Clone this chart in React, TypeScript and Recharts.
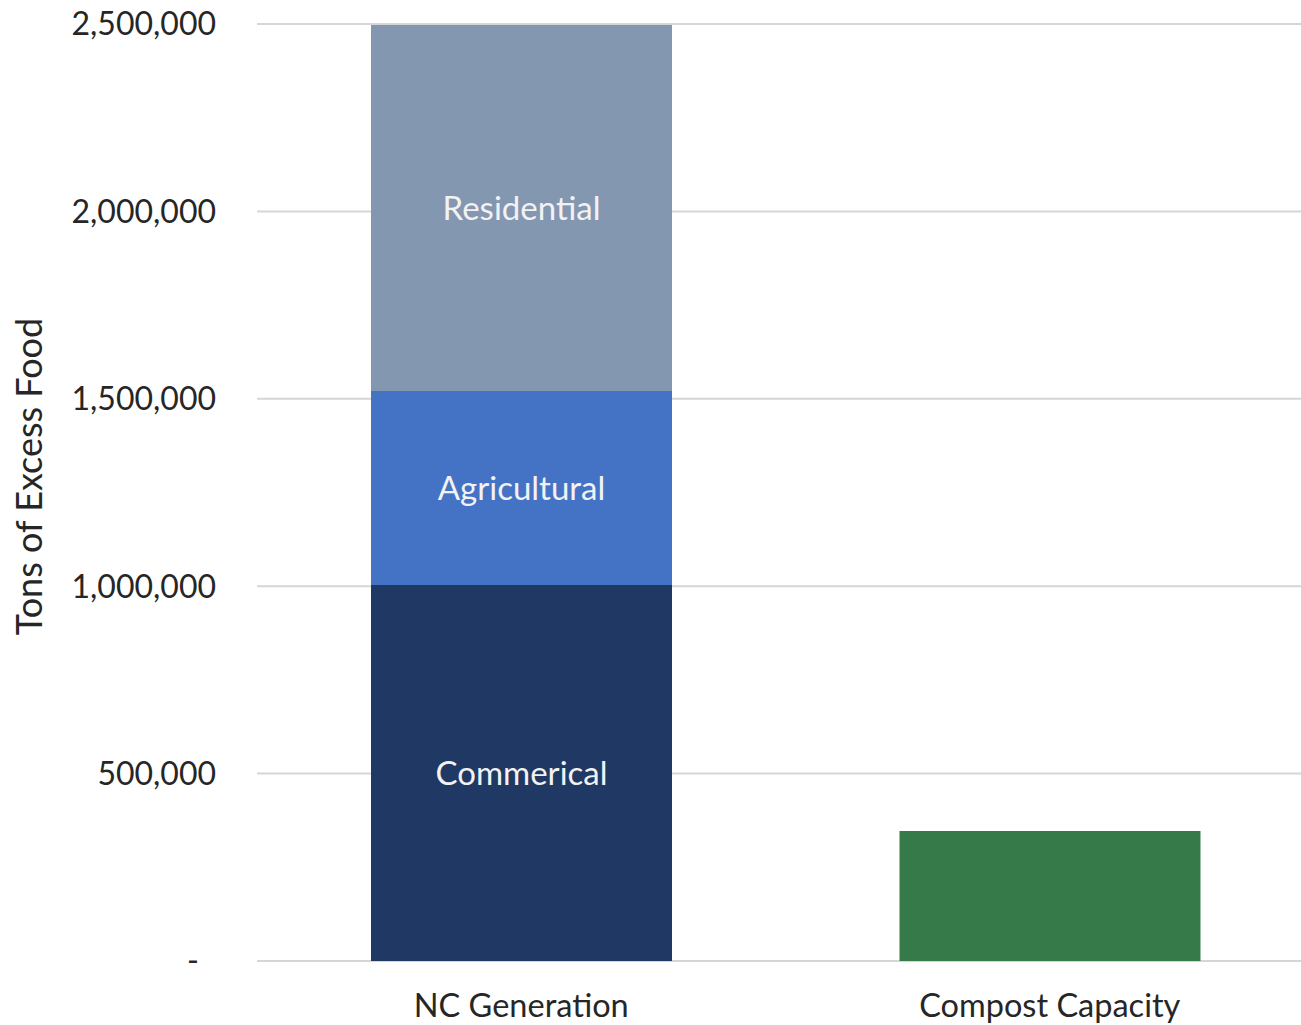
import { BarChart, Bar, XAxis, YAxis, CartesianGrid, LabelList } from "recharts"

const categories = ["NC Generation", "Compost Capacity"]
const commercial = [1003000, null]
const agricultural = [518000, null]
const residential = [976000, null]
const compost = [null, 347000]
const yTicks = [0, 500000, 1000000, 1500000, 2000000, 2500000]

const data = categories.map((name, i) => ({
  name,
  commercial: commercial[i],
  agricultural: agricultural[i],
  residential: residential[i],
  compost: compost[i],
}))

const FONT = "Lato, 'Open Sans', sans-serif"
const TEXT = "#262626"

function YTick(props: any) {
  const { x, y, payload } = props
  const v = payload.value
  if (v === 0) {
    return <text x={x - 17} y={y} dy="0.355em" textAnchor="end" fontSize={32} fill={TEXT} fontFamily={FONT}>-</text>
  }
  return (
    <text x={x} y={y} dy="0.355em" textAnchor="end" fontSize={32} fill={TEXT} fontFamily={FONT}>
      {v.toLocaleString("en-US")}
    </text>
  )
}

function segLabel(text: string) {
  return (props: any) => {
    const { x, y, width, height, value } = props
    if (value == null) return null
    return (
      <text x={x + width / 2} y={y + height / 2} dy="0.355em" textAnchor="middle" fontSize={33} fill="#f2f2f2" fontFamily={FONT}>
        {text}
      </text>
    )
  }
}

export default function App() {
  return (
    <div style={{ position: "absolute", left: 0, top: 0, width: 1301, height: 1025, overflow: "hidden", background: "#fff" }}>
      <BarChart width={1301} height={1025} data={data} margin={{ top: 24, right: -13, bottom: 0, left: 0 }} barSize={301}>
        <CartesianGrid vertical={false} stroke="#d6d6d6" strokeWidth={2} />
        <XAxis
          dataKey="name"
          height={64}
          axisLine={false}
          tickLine={false}
          tickSize={0}
          tickMargin={33}
          tick={{ fontSize: 32.5, fill: TEXT, fontFamily: FONT }}
        />
        <YAxis
          width={257}
          domain={[0, 2500000]}
          ticks={yTicks}
          axisLine={false}
          tickLine={false}
          tickSize={0}
          tickMargin={41}
          tick={<YTick />}
          label={{
            content: (p: any) => {
              const vb = p.viewBox
              const cy = vb.y + vb.height / 2 - 16
              return (
                <text x={29} y={cy} dy="0.355em" textAnchor="middle" transform={`rotate(-90, 29, ${cy})`} fontSize={36} fill={TEXT} fontFamily={FONT}>
                  Tons of Excess Food
                </text>
              )
            },
          }}
        />
        <Bar dataKey="commercial" stackId="a" fill="#203864" isAnimationActive={false}>
          <LabelList dataKey="commercial" content={segLabel("Commerical")} />
        </Bar>
        <Bar dataKey="agricultural" stackId="a" fill="#4472C4" isAnimationActive={false}>
          <LabelList dataKey="agricultural" content={segLabel("Agricultural")} />
        </Bar>
        <Bar dataKey="residential" stackId="a" fill="#8497B0" isAnimationActive={false}>
          <LabelList dataKey="residential" content={segLabel("Residential")} />
        </Bar>
        <Bar dataKey="compost" stackId="a" fill="#377A4A" isAnimationActive={false} />
      </BarChart>
    </div>
  )
}
